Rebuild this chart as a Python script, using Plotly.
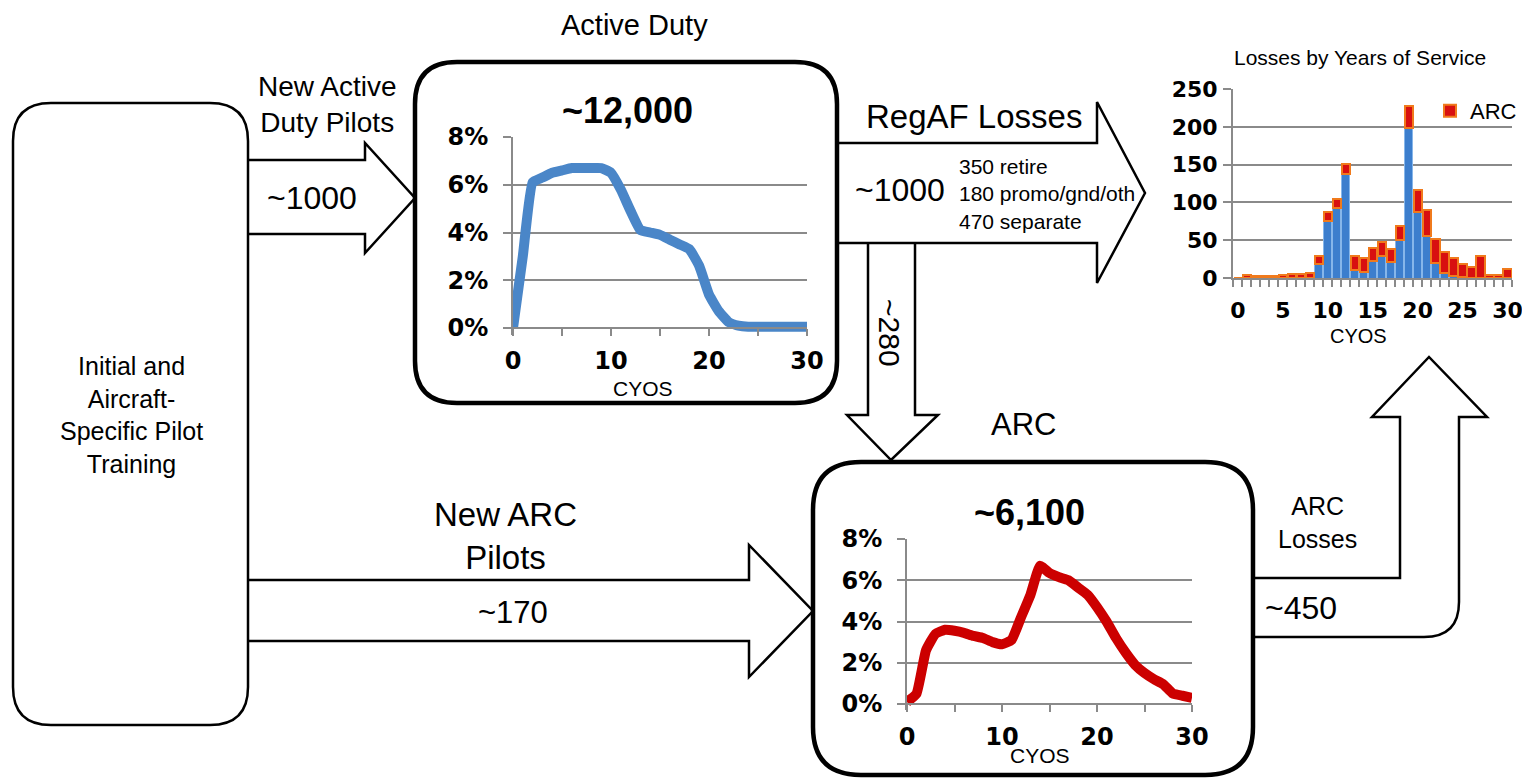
import plotly.graph_objects as go

# ---------------- data ----------------
cyos = list(range(31))
active_duty_pct = [0.0, 3.0, 6.1, 6.3, 6.5, 6.6, 6.7, 6.7, 6.7, 6.7, 6.5, 5.8, 4.9, 4.1, 4.0,
                   3.9, 3.7, 3.5, 3.3, 2.6, 1.4, 0.7, 0.25, 0.1, 0.05, 0.05, 0.05, 0.05, 0.05, 0.05, 0.05]
arc_pct = [0.1, 0.5, 2.6, 3.4, 3.6, 3.55, 3.45, 3.3, 3.2, 3.0, 2.9, 3.1, 4.2, 5.3, 6.7,
           6.35, 6.15, 6.0, 5.65, 5.3, 4.7, 4.0, 3.2, 2.5, 1.9, 1.5, 1.2, 0.95, 0.5, 0.4, 0.3]

loss_years = list(range(31))
regaf_losses = [0, 0, 0, 0, 0, 0, 0, 0, 0, 18, 76, 93, 137, 11, 8, 22, 29, 21, 50, 198,
                87, 55, 20, 7, 3, 1, 0, 0, 0, 0, 0]
arc_losses = [0, 4, 3, 3, 3, 4, 5, 5, 7, 11, 11, 11, 14, 18, 18, 18, 19, 18, 19, 29,
              30, 35, 31, 28, 24, 18, 15, 29, 4, 4, 12]

pct_ticks = [0, 2, 4, 6, 8]
pct_labels = ["0%", "2%", "4%", "6%", "8%"]
cyos_ticks = [0, 5, 10, 15, 20, 25, 30]
cyos_labels = ["0", "", "10", "", "20", "", "30"]
loss_ticks = [0, 50, 100, 150, 200, 250]
bar_x_labels = ["0", "5", "10", "15", "20", "25", "30"]

# ---------------- helpers (window pixel -> paper) ----------------
OFF = 8                      # page body margin
W, H = 1530 - OFF, 782 - OFF
def X(p):
    return (p - OFF) / W
def Y(p):
    return 1 - (p - OFF) / H

def pth(cmds):
    out = []
    for c in cmds:
        if isinstance(c, str):
            out.append(c)
        else:
            out.append(f"{X(c[0]):.5f},{Y(c[1]):.5f}")
    return " ".join(out)

def rrect(x0, y0, x1, y1, r):
    return pth(["M", (x0 + r, y0), "L", (x1 - r, y0), "Q", (x1, y0), (x1, y0 + r),
                "L", (x1, y1 - r), "Q", (x1, y1), (x1 - r, y1),
                "L", (x0 + r, y1), "Q", (x0, y1), (x0, y1 - r),
                "L", (x0, y0 + r), "Q", (x0, y0), (x0 + r, y0), "Z"])

FONT = "Liberation Sans"
TICKFONT = dict(family="DejaVu Sans", size=24, color="black", weight="bold")
BARTICKFONT = dict(family="DejaVu Sans", size=22, color="black", weight="bold")
GRID = "#8a8a8a"

fig = go.Figure()

fig.add_trace(go.Scatter(x=cyos, y=active_duty_pct, mode="lines",
                         line=dict(color="#4a86c8", width=10, shape="spline", smoothing=0.4),
                         xaxis="x", yaxis="y", showlegend=False))
fig.add_trace(go.Scatter(x=cyos, y=arc_pct, mode="lines",
                         line=dict(color="#cc0000", width=10, shape="spline", smoothing=0.4),
                         xaxis="x2", yaxis="y2", showlegend=False))
fig.add_trace(go.Bar(x=loss_years, y=regaf_losses, name="RegAF",
                     marker=dict(color="#3c7ecd", line=dict(color="#86b6ea", width=1)),
                     xaxis="x3", yaxis="y3", showlegend=False))
fig.add_trace(go.Bar(x=loss_years, y=arc_losses, name="ARC",
                     marker=dict(color="#d81010", line=dict(color="#f07a1c", width=2)),
                     xaxis="x3", yaxis="y3", showlegend=True))

# ---------------- shapes ----------------
shapes = []
def add_path(path, width):
    shapes.append(dict(type="path", xref="paper", yref="paper", path=path,
                       line=dict(color="black", width=width), layer="below"))

add_path(rrect(13, 103, 248, 725, 38), 2.5)      # training box
add_path(rrect(415, 62, 837, 403, 42), 4.5)      # active duty box
add_path(rrect(813, 462, 1253, 775, 48), 4.5)    # ARC box

# New Active Duty Pilots arrow
add_path(pth(["M", (248, 160), "L", (365, 160), "L", (365, 143), "L", (415, 198),
              "L", (365, 253), "L", (365, 234), "L", (248, 234)]), 2.5)
# RegAF losses arrow
add_path(pth(["M", (837, 143), "L", (1097, 143), "L", (1097, 102), "L", (1145, 193),
              "L", (1097, 283), "L", (1097, 243), "L", (837, 243)]), 2.5)
# down arrow ~280
add_path(pth(["M", (868, 243), "L", (868, 415), "L", (847, 415), "L", (891, 460),
              "L", (938, 415), "L", (915, 415), "L", (915, 243)]), 2.5)
# New ARC pilots arrow
add_path(pth(["M", (248, 580), "L", (749, 580), "L", (749, 545), "L", (813, 611),
              "L", (749, 677), "L", (749, 641), "L", (248, 641)]), 2.5)
# ARC losses bent arrow
add_path(pth(["M", (1253, 578), "L", (1400, 578), "L", (1400, 417), "L", (1372, 417),
              "L", (1429, 357), "L", (1487, 417), "L", (1459, 417), "L", (1459, 602),
              "Q", (1459, 637), (1424, 637), "L", (1253, 637)]), 2.5)

# ---------------- annotations ----------------
anns = []
def txt(x, y, t, size, bold=False, angle=0, xanchor="center", align="center"):
    anns.append(dict(x=X(x), y=Y(y), xref="paper", yref="paper", text=t, showarrow=False,
                     xanchor=xanchor, yanchor="middle", align=align, textangle=angle,
                     font=dict(family=FONT, size=size, color="black",
                               weight="bold" if bold else "normal")))

txt(634, 25, "Active Duty", 29)
txt(327, 104, "New Active<br>Duty Pilots", 28)
txt(312, 198, "~1000", 32)
txt(627, 110, "~12,000", 36, bold=True)
txt(643, 388, "CYOS", 21)
txt(974, 116, "RegAF Losses", 33)
txt(900, 190, "~1000", 32)
txt(957, 194, "350 retire<br>180 promo/gnd/oth<br>470 separate", 21, xanchor="left", align="left")
txt(890, 333, "~280", 30, angle=90)
txt(1023, 425, "ARC", 31)
txt(1030, 512, "~6,100", 36, bold=True)
txt(1040, 755, "CYOS", 21)
txt(131, 415, "Initial and<br>Aircraft-<br>Specific Pilot<br>Training", 25)
txt(505, 536, "New ARC<br>Pilots", 33)
txt(513, 612, "~170", 31)
txt(1317, 522, "ARC<br>Losses", 25)
txt(1301, 608, "~450", 32)
txt(1360, 57, "Losses by Years of Service", 21)
txt(1358, 336, "CYOS", 20)

# ---------------- axes ----------------
def line_axes(x0, x1, y0pix, y8pix):
    per = (y0pix - y8pix) / 8.0
    ext = 0.3
    ybot = y0pix + ext * per
    xa = dict(domain=[X(x0), X(x1)], range=[0, 30], anchor="free", position=Y(y0pix),
              tickmode="array", tickvals=cyos_ticks, ticktext=cyos_labels,
              ticks="outside", ticklen=7, tickwidth=2, tickcolor=GRID,
              showline=True, linecolor=GRID, linewidth=2, showgrid=False, zeroline=False,
              tickfont=TICKFONT, ticklabelstandoff=4, automargin=False)
    ya = dict(domain=[Y(ybot), Y(y8pix)], range=[-ext, 8],
              tickmode="array", tickvals=pct_ticks, ticktext=pct_labels,
              ticks="outside", ticklen=8, tickwidth=2, tickcolor=GRID,
              showgrid=True, gridcolor=GRID, gridwidth=2, zeroline=False,
              showline=True, linecolor=GRID, linewidth=2,
              tickfont=TICKFONT, ticklabelstandoff=10, automargin=False)
    return xa, ya

xa1, ya1 = line_axes(513, 807, 328, 137)
xa2, ya2 = line_axes(907, 1192, 704, 539)
ya1["anchor"] = "x"
ya2["anchor"] = "x2"

xa3 = dict(domain=[X(1233), X(1512)], range=[-0.55, 30.5], anchor="y3",
           tickmode="array", tickvals=cyos_ticks, ticktext=bar_x_labels, ticks="",
           minor=dict(tickmode="array", tickvals=[i - 0.5 for i in range(32)],
                      ticks="outside", ticklen=7, tickwidth=1.5, tickcolor=GRID, showgrid=False),
           showline=True, linecolor=GRID, linewidth=2, showgrid=False, zeroline=False,
           tickfont=BARTICKFONT, ticklabelstandoff=12, automargin=False)
ya3 = dict(domain=[Y(278), Y(89)], range=[0, 250], anchor="x3",
           tickmode="array", tickvals=loss_ticks,
           ticks="outside", ticklen=8, tickwidth=2, tickcolor=GRID,
           showgrid=True, gridcolor=GRID, gridwidth=2, zeroline=False,
           showline=True, linecolor=GRID, linewidth=2,
           tickfont=BARTICKFONT, ticklabelstandoff=1, automargin=False)

fig.update_layout(
    width=W, height=H, margin=dict(l=0, r=0, t=0, b=0, autoexpand=False),
    paper_bgcolor="white", plot_bgcolor="rgba(0,0,0,0)",
    barmode="stack", bargap=0.08,
    xaxis=xa1, yaxis=ya1, xaxis2=xa2, yaxis2=ya2, xaxis3=xa3, yaxis3=ya3,
    shapes=shapes, annotations=anns,
    legend=dict(x=X(1430), y=Y(90), xanchor="left", yanchor="top",
                bgcolor="rgba(0,0,0,0)", font=dict(family=FONT, size=22, color="black"),
                itemwidth=30, tracegroupgap=0),
    showlegend=True,
)

fig.write_html("out.html")
